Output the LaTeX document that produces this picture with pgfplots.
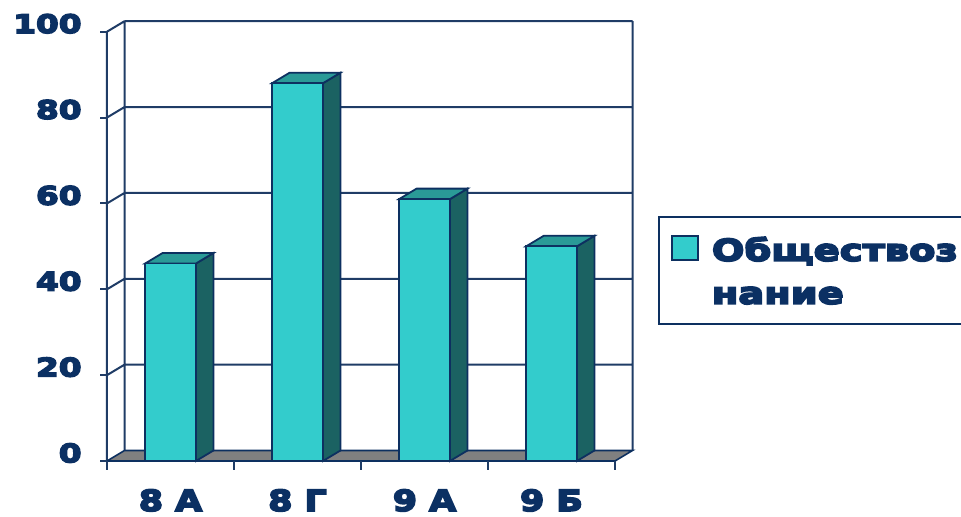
\documentclass[border=0pt]{standalone}
\usepackage{pgfplots}
\pgfplotsset{compat=1.18}
\usepackage{fontspec}
\setmainfont{DejaVu Sans}
\newfontfamily\xf{DejaVu Sans Bold}[FakeStretch=1.2,FakeBold=6]
\newfontfamily\yf{DejaVu Sans Bold}[FakeStretch=1.28,FakeBold=6]
\newfontfamily\lf{DejaVu Sans Bold}[FakeStretch=1.28,FakeBold=6]
\definecolor{txt}{HTML}{0B3063}
\definecolor{gridc}{HTML}{1F3C66}
\definecolor{frontc}{HTML}{33CCCC}
\definecolor{sidec}{HTML}{1B6262}
\definecolor{topc}{HTML}{2A9A97}
\definecolor{edgec}{HTML}{0D3060}
\definecolor{floorc}{HTML}{808080}
\begin{document}
\begin{tikzpicture}
\begin{axis}[
  at={(0,0)}, anchor=origin,
  x=63.5pt, y=2.1465pt,
  xmin=0, xmax=4, ymin=0, ymax=100,
  clip=false,
  axis line style={draw=none},
  major tick length=0pt,
  unbounded coords=jump,
  every axis plot/.append style={forget plot},
  xtick={0.5,1.5,2.5,3.5},
  xticklabels={8 А,8 Г,9 А,9 Б},
  ytick={0,20,40,60,80,100},
  yticklabels={0,20,40,60,80,100},
  xticklabel style={font=\xf\fontsize{14.5}{18}\selectfont, text=txt, anchor=north, inner sep=0pt, yshift=-14pt},
  yticklabel style={font=\yf\fontsize{12.8}{14}\selectfont, text=txt, anchor=east, inner sep=0pt, xshift=-12.5pt, yshift=4pt},
  legend style={at={(axis description cs:1.0847,0.5707)}, anchor=north west, draw=edgec, line width=0.8pt, fill=white,
    inner xsep=6.5pt, inner ysep=6pt, column sep=7pt, row sep=3.5pt,
    nodes={inner sep=0pt, text=txt, font=\lf\fontsize{15}{21.5}\selectfont, text height=14pt, text depth=4pt}},
  legend cell align=left,
]
% back wall and side wall
\addplot[gridc, line width=1pt] coordinates {
(0.138,22.45) (4.138,22.45) (nan,nan)
(0.138,42.45) (4.138,42.45) (nan,nan)
(0.138,62.45) (4.138,62.45) (nan,nan)
(0.138,82.45) (4.138,82.45) (nan,nan)
(0.138,102.45) (4.138,102.45) (nan,nan)
(0.138,2.45) (0.138,102.45) (nan,nan)
(4.138,2.45) (4.138,102.45) (nan,nan)
(0,0) (0,100) (nan,nan)
(0,20) (0.138,22.45) (nan,nan)
(0,40) (0.138,42.45) (nan,nan)
(0,60) (0.138,62.45) (nan,nan)
(0,80) (0.138,82.45) (nan,nan)
(0,100) (0.138,102.45)
};
% floor
\addplot[fill=floorc, draw=edgec, line width=0.8pt] coordinates {(0,0) (4,0) (4.138,2.45) (0.138,2.45)} --cycle;
% ticks
\addplot[gridc, line width=1pt] coordinates {
(-0.055,0) (0,0) (nan,nan)
(-0.055,20) (0,20) (nan,nan)
(-0.055,40) (0,40) (nan,nan)
(-0.055,60) (0,60) (nan,nan)
(-0.055,80) (0,80) (nan,nan)
(-0.055,100) (0,100) (nan,nan)
(0,0) (0,-2) (nan,nan)
(1,0) (1,-2) (nan,nan)
(2,0) (2,-2) (nan,nan)
(3,0) (3,-2) (nan,nan)
(4,0) (4,-2)
};
% bar 8 A = 46
\addplot[fill=sidec, draw=edgec, line width=0.9pt] coordinates {(0.7,0) (0.838,2.45) (0.838,48.45) (0.7,46)} --cycle;
\addplot[fill=topc, draw=edgec, line width=0.9pt] coordinates {(0.3,46) (0.7,46) (0.838,48.45) (0.438,48.45)} --cycle;
\addplot[fill=frontc, draw=edgec, line width=0.9pt] coordinates {(0.3,0) (0.7,0) (0.7,46) (0.3,46)} --cycle;
% bar 8 G = 88
\addplot[fill=sidec, draw=edgec, line width=0.9pt] coordinates {(1.7,0) (1.838,2.45) (1.838,90.45) (1.7,88)} --cycle;
\addplot[fill=topc, draw=edgec, line width=0.9pt] coordinates {(1.3,88) (1.7,88) (1.838,90.45) (1.438,90.45)} --cycle;
\addplot[fill=frontc, draw=edgec, line width=0.9pt] coordinates {(1.3,0) (1.7,0) (1.7,88) (1.3,88)} --cycle;
% bar 9 A = 61
\addplot[fill=sidec, draw=edgec, line width=0.9pt] coordinates {(2.7,0) (2.838,2.45) (2.838,63.45) (2.7,61)} --cycle;
\addplot[fill=topc, draw=edgec, line width=0.9pt] coordinates {(2.3,61) (2.7,61) (2.838,63.45) (2.438,63.45)} --cycle;
\addplot[fill=frontc, draw=edgec, line width=0.9pt] coordinates {(2.3,0) (2.7,0) (2.7,61) (2.3,61)} --cycle;
% bar 9 B = 50
\addplot[fill=sidec, draw=edgec, line width=0.9pt] coordinates {(3.7,0) (3.838,2.45) (3.838,52.45) (3.7,50)} --cycle;
\addplot[fill=topc, draw=edgec, line width=0.9pt] coordinates {(3.3,50) (3.7,50) (3.838,52.45) (3.438,52.45)} --cycle;
\addplot[fill=frontc, draw=edgec, line width=0.9pt] coordinates {(3.3,0) (3.7,0) (3.7,50) (3.3,50)} --cycle;
% legend
\addlegendimage{legend image code/.code={\path[draw=none,fill=none] (0pt,-1pt) rectangle (13pt,11pt); \draw[overlay,fill=frontc,draw=edgec,line width=0.8pt] (0pt,-4.5pt) rectangle (13pt,7.5pt);}}
\addlegendentry{Обществоз\hspace{12pt}}
\addlegendimage{empty legend}
\addlegendentry{нание}
\end{axis}
\pgfresetboundingbox
\useasboundingbox (-53.5pt,-27.5pt) rectangle (427pt,230.5pt);
\end{tikzpicture}
\end{document}
